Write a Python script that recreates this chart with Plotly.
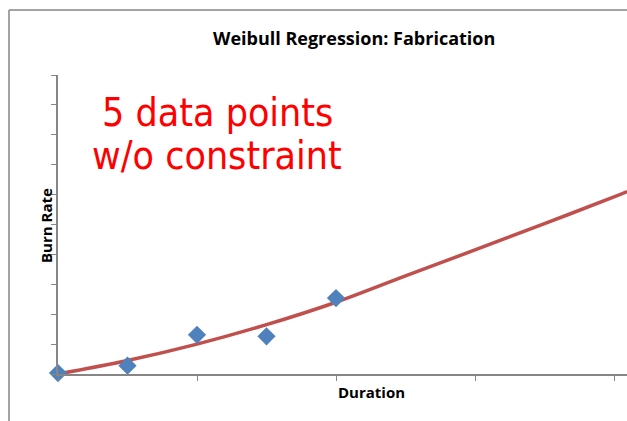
import plotly.graph_objects as go

# Observed data points
duration = [0, 1, 2, 3, 4]
burn_rate = [0.03, 0.28, 1.31, 1.26, 2.54]

# Fitted Weibull regression curve
fit_x = [0, 1, 2, 3, 4, 5, 6, 7, 8, 8.19]
fit_y = [0, 0.45, 1.0, 1.65, 2.4, 3.28, 4.15, 5.03, 5.92, 6.1]

title_text = "Weibull Regression: Fabrication"
x_title = "Duration"
y_title = "Burn Rate"
note_lines = ["5 data points", "w/o constraint"]

W, H = 627, 421
L, R, T, B = 58, 0, 75, 47
pw, ph = W - L - R, H - T - B


def px(x):
    return (x - L) / pw


def py(y):
    return (H - B - y) / ph


fig = go.Figure()
fig.add_trace(go.Scatter(
    x=fit_x, y=fit_y, mode="lines", line=dict(color="#C0504D", width=3.5, shape="spline"),
    showlegend=False, hoverinfo="skip"))
fig.add_trace(go.Scatter(
    x=duration, y=burn_rate, mode="markers",
    marker=dict(symbol="diamond", size=14, color="#4F81BD", line=dict(width=0)),
    cliponaxis=False, showlegend=False))

axis_common = dict(showline=True, linecolor="#868686", linewidth=1.5, ticks="outside",
                   ticklen=5, tickcolor="#868686", tickwidth=1.2, showticklabels=False,
                   showgrid=False, zeroline=False)
fig.update_xaxes(range=[0, pw / 69.5], dtick=2, tick0=0, **axis_common)
fig.update_yaxes(range=[0, 10], dtick=1, tick0=0, **axis_common)

note_font = dict(family="DejaVu Sans Condensed, DejaVu Sans", size=39, color="#FF0000")
ann = []
ann.append(dict(text="<b>" + title_text + "</b>", x=px(354), y=py(38), xref="paper", yref="paper",
                showarrow=False, font=dict(family="Open Sans", size=18, color="#000000"),
                xanchor="center", yanchor="middle"))
ann.append(dict(text="<b>" + x_title + "</b>", x=px(371), y=py(392), xref="paper", yref="paper",
                showarrow=False, font=dict(family="Open Sans", size=15, color="#000000"),
                xanchor="center", yanchor="middle"))
ann.append(dict(text="<b>" + y_title + "</b>", x=px(46), y=py(226), xref="paper", yref="paper",
                showarrow=False, textangle=-90, font=dict(family="Open Sans", size=15, color="#000000"),
                xanchor="center", yanchor="middle"))
ann.append(dict(text=note_lines[0], x=px(217.5), y=py(112), xref="paper", yref="paper",
                showarrow=False, font=note_font, xanchor="center", yanchor="middle"))
ann.append(dict(text=note_lines[1], x=px(217), y=py(155), xref="paper", yref="paper",
                showarrow=False, font=note_font, xanchor="center", yanchor="middle"))

shapes = [
    dict(type="line", xref="paper", yref="paper", x0=px(9), x1=px(9), y0=py(10), y1=py(430),
         line=dict(color="#868686", width=1.5)),
    dict(type="line", xref="paper", yref="paper", x0=px(9), x1=px(640), y0=py(10), y1=py(10),
         line=dict(color="#868686", width=1.5)),
]

fig.update_layout(width=W, height=H, margin=dict(l=L, r=R, t=T, b=B),
                  paper_bgcolor="white", plot_bgcolor="white",
                  annotations=ann, shapes=shapes)

fig.write_html("out.html", config={"displayModeBar": False},
               post_script="document.body.style.margin='0';document.body.style.overflow='hidden';")
